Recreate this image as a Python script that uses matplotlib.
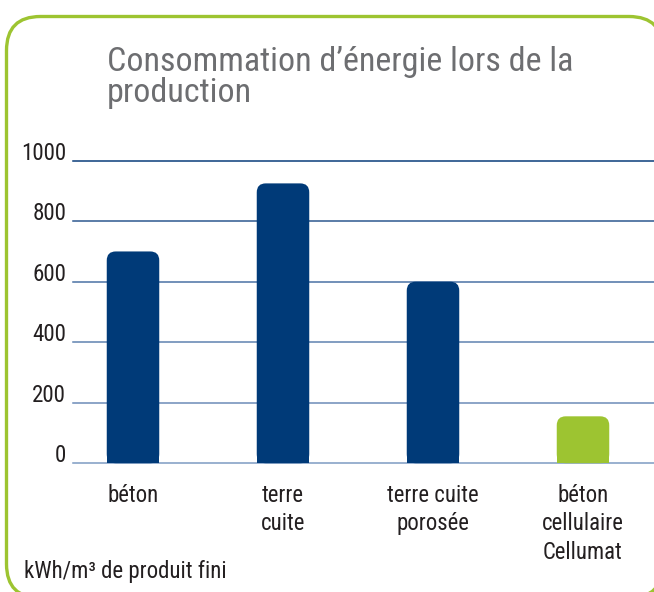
import matplotlib
matplotlib.use("Agg")
import matplotlib.pyplot as plt
from matplotlib import font_manager as fm
from matplotlib.patches import FancyBboxPatch, Rectangle
from matplotlib.transforms import Affine2D

# ---- data ----
categories = ["béton", "terre\ncuite", "terre cuite\nporosée", "béton\ncellulaire\nCellumat"]
values = [700, 925, 600, 155]
yticks = [0, 200, 400, 600, 800, 1000]
title_lines = ["Consommation d\u2019énergie lors de la", "production"]
unit_label = "kWh/m\u00b3 de produit fini"

# ---- font choice ----
available = {f.name for f in fm.fontManager.ttflist}
main_font = "Liberation Sans"
for cand in ["Roboto Condensed", "Archivo Narrow", "PT Sans Narrow", "Asap Condensed", "Barlow Semi Condensed"]:
    if cand in available:
        main_font = cand
        break
FONT = [main_font, "DejaVu Sans"]
plt.rcParams["font.family"] = FONT

NAVY = "#003a78"
GREEN = "#9dc431"
bar_colors = [NAVY, NAVY, NAVY, GREEN]
grid_colors = ["#7d9bc2", "#6c8cb8", "#5f82b0", "#4a72a4", "#2d5990", "#0a3d7a"]
TEXT = "#231f20"
TITLE_C = "#6d6e71"

W, H = 654, 592
fig = plt.figure(figsize=(W / 100, H / 100), dpi=100)
fig.patch.set_facecolor("white")
renderer = fig.canvas.get_renderer()
SCALE = 1.07


def fit_size(s, target_px, base=20.0):
    t = fig.text(0, 0, s, fontsize=base, family=FONT)
    w = t.get_window_extent(renderer=renderer).width
    t.remove()
    return base * target_px / w * SCALE


# pixel (top-left origin) -> inches transform
px = Affine2D().scale(1 / 100.0, -1 / 100.0).translate(0, H / 100.0) + fig.dpi_scale_trans

# green rounded border (slightly beyond canvas on right/bottom); filled white so
# that Agg does not clip the stroked outline at the canvas edge
bx0, by0, bx1, by1 = 6.5, 16.5, 663, 598
border = FancyBboxPatch((bx0, by0), bx1 - bx0, by1 - by0,
                        boxstyle="round,pad=0,rounding_size=34",
                        transform=px, facecolor="white",
                        edgecolor=GREEN, linewidth=2.4, zorder=-5)
fig.patches.append(border)

# axes
ax_left, ax_right = 73, 654
ax_top, ax_bot = 160.7, 463.2
ax = fig.add_axes([ax_left / W, 1 - ax_bot / H, (ax_right - ax_left) / W, (ax_bot - ax_top) / H])
ax.set_facecolor("none")
for s in ax.spines.values():
    s.set_visible(False)
ax.set_ylim(0, 1000)
px_per_x = 150.0
ax.set_xlim(-0.4, -0.4 + (ax_right - ax_left) / px_per_x)
ax.set_xticks([])
ax.set_yticks([])
px_per_y = (ax_bot - ax_top) / 1000.0

tick_fs = fit_size("1000", 42.5)
for yv, gc in zip(yticks, grid_colors):
    ax.axhline(yv, color=gc, linewidth=1.1, zorder=1, clip_on=False)
    ax.text(-0.4 - 7 / px_per_x, yv + 1 / px_per_y, str(yv), ha="right", va="baseline",
            fontsize=tick_fs, color=TEXT, family=FONT)

bw = 0.35
bars = ax.bar(range(len(values)), values, width=bw, color=bar_colors, zorder=2)
rad_px = 9
rx = rad_px / px_per_x
ry = rad_px / px_per_y
for b, c in zip(bars, bar_colors):
    b.set_visible(False)
    x0, w, h = b.get_x(), b.get_width(), b.get_height()
    ax.add_patch(FancyBboxPatch((x0, 0), w, h,
                                boxstyle=f"round,pad=0,rounding_size={rx}",
                                mutation_aspect=ry / rx,
                                facecolor=c, edgecolor="none", zorder=2, clip_on=False))
    ax.add_patch(Rectangle((x0, 0), w, h - ry, facecolor=c, edgecolor="none",
                           zorder=2, clip_on=False))

# category labels
cat_fs = fit_size("terre cuite", 85)
for i, cat in enumerate(categories):
    for k, ln in enumerate(cat.split("\n")):
        ybase = 501.7 + k * 28.5
        ax.text(i, -(ybase - ax_bot) / px_per_y, ln, ha="center", va="baseline",
                fontsize=cat_fs, color=TEXT, family=FONT, clip_on=False)

# title
title_fs = fit_size(title_lines[0], 434)
for k, ln in enumerate(title_lines):
    fig.text(107 / W, 1 - (71 + k * 31) / H, ln, ha="left", va="baseline",
             fontsize=title_fs, color=TITLE_C, family=FONT)

# unit label
unit_fs = fit_size(unit_label, 189)
fig.text(24 / W, 1 - 578 / H, unit_label, ha="left", va="baseline",
         fontsize=unit_fs, color=TEXT, family=FONT)

fig.savefig("out.png", dpi=100, facecolor="white")
